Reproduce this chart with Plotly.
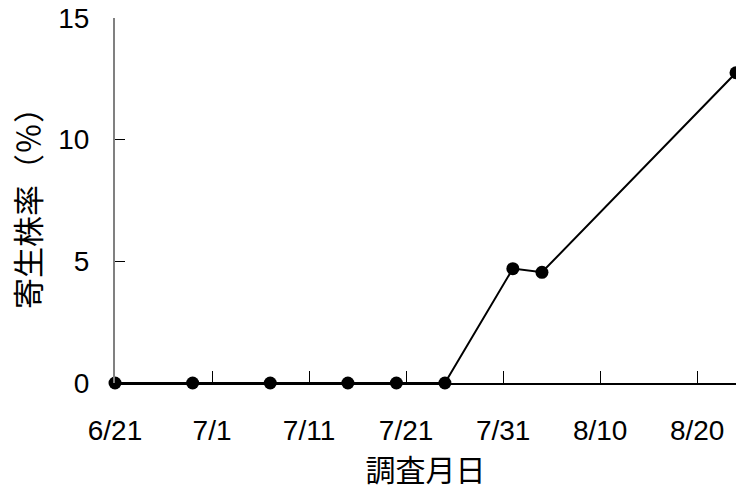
import plotly.graph_objects as go

# survey dates and parasitized-plant rate (%)
dates = ['2009-06-21', '2009-06-29', '2009-07-07', '2009-07-15', '2009-07-20',
         '2009-07-25', '2009-08-01', '2009-08-04', '2009-08-24']
rate = [0, 0, 0, 0, 0, 0, 4.7, 4.55, 12.75]

y_ticks = [0, 5, 10, 15]

fig = go.Figure()
fig.add_trace(go.Scatter(
    x=dates,
    y=rate,
    mode='lines+markers',
    line=dict(color='black', width=2),
    marker=dict(color='black', size=13),
    cliponaxis=False,
    showlegend=False
))

fig.update_layout(
    width=736, height=497,
    margin=dict(l=115, r=0, t=18, b=114),
    plot_bgcolor='white',
    paper_bgcolor='white',
    font=dict(family='Liberation Sans, Arial', size=28, color='black'),
    xaxis=dict(
        type='date',
        range=['2009-06-21', '2009-08-24'],
        tick0='2009-06-21',
        dtick=10 * 24 * 3600 * 1000,
        tickformat='%-m/%-d',
        showgrid=False,
        zeroline=False,
        showline=True, linecolor='black', linewidth=1.5,
        ticks='inside', ticklen=12, tickcolor='black',
        ticklabelstandoff=22,
        title=dict(text='調査月日', font=dict(family='Noto Sans CJK JP', size=30), standoff=15),
    ),
    yaxis=dict(
        range=[0, 15],
        tickvals=y_ticks,
        showgrid=False,
        zeroline=False,
        showline=True, linecolor='#808080', linewidth=2,
        ticks='inside', ticklen=10, tickcolor='black',
        ticklabelstandoff=18,
        ticklabeloverflow='allow',
        title=dict(text='寄生株率（％）', font=dict(family='Noto Sans CJK JP', size=31), standoff=8),
    ),
)

# drop the default body margin so the figure fills the window
fig.write_html('out.html', config={'displayModeBar': False},
               post_script="document.body.style.margin='0';document.body.style.overflow='hidden';")
